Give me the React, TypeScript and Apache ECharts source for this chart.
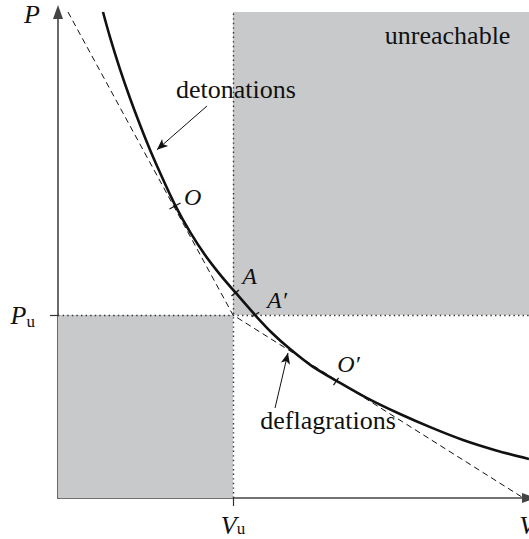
import { useEffect, useRef } from 'react';
import * as echarts from 'echarts';

// Normalised units: V / V_u and P / P_u
const V_MAX = 2.691;
const P_MAX = 2.656;
const V_U = 1;
const P_U = 1;

// Hugoniot curve (thick line)
const HUGONIOT_V = [0.257, 0.297, 0.354, 0.411, 0.469, 0.526, 0.594, 0.669, 0.754, 0.84, 0.926, 1.011, 1.126, 1.223, 1.326, 1.451, 1.594, 1.766, 1.954, 2.137, 2.314, 2.503, 2.691];
const HUGONIOT_P = [2.656, 2.519, 2.344, 2.186, 2.038, 1.902, 1.754, 1.601, 1.454, 1.328, 1.221, 1.126, 1.0, 0.902, 0.814, 0.721, 0.639, 0.546, 0.459, 0.383, 0.317, 0.26, 0.213];

// Rayleigh lines (dashed), through (V_u, P_u)
const RAYLEIGH_V = [0.057, 1, 2.651];
const RAYLEIGH_P = [2.656, 1, 0.005];

// Small marks across the curve at O, A, A', O'
const CURVE_MARK_START_V = [0.637, 0.991, 1.107, 1.574];
const CURVE_MARK_START_P = [1.579, 1.104, 0.991, 0.617];
const CURVE_MARK_END_V = [0.7, 1.034, 1.149, 1.603];
const CURVE_MARK_END_P = [1.612, 1.137, 1.015, 0.656];

// Point labels
const POINT_LABELS = ['O', 'A', 'A′', 'O′'];
const POINT_LABEL_V = [0.769, 1.094, 1.251, 1.66];
const POINT_LABEL_P = [1.645, 1.213, 1.082, 0.732];

// Region / branch labels
const REGION_LABELS = ['detonations', 'unreachable', 'deflagrations'];
const REGION_LABEL_V = [1.017, 2.226, 1.543];
const REGION_LABEL_P = [2.23, 2.525, 0.421];

// Pointer arrows (from label to curve)
const ARROW_FROM_V = [0.851, 1.24];
const ARROW_FROM_P = [2.142, 0.492];
const ARROW_TO_V = [0.565, 1.314];
const ARROW_TO_P = [1.903, 0.793];

// Axis labels
const X_LABEL_VALUES = [V_U, 2.68];
const X_LABEL_TEXTS = ['{v|V}{s|u}', '{v|V}'];
const Y_LABEL_VALUES = [P_U, 2.64];
const Y_LABEL_TEXTS = ['{v|P}{s|u}', '{t|P}'];

const SERIF = 'Liberation Serif';
const INK = '#111';

function pickLabel(values: number[], texts: string[], v: number) {
  let best = 0;
  for (let i = 1; i < values.length; i++) {
    if (Math.abs(values[i] - v) < Math.abs(values[best] - v)) best = i;
  }
  return texts[best];
}

export default function App() {
  const ref = useRef<HTMLDivElement>(null);

  useEffect(() => {
    if (!ref.current) return;
    const chart = echarts.init(ref.current, undefined, { renderer: 'svg' });

    const italic = { fontFamily: SERIF, fontStyle: 'italic', fontSize: 26, color: INK };
    const sub = { fontFamily: SERIF, fontSize: 17, color: INK, lineHeight: 14, verticalAlign: 'bottom' };

    const option: any = {
      animation: false,
      backgroundColor: '#ffffff',
      grid: { left: 58, right: 0, top: 12, bottom: 41, containLabel: false, outerBoundsMode: 'none' },
      xAxis: {
        type: 'value',
        min: 0,
        max: V_MAX,
        splitLine: { show: false },
        axisLine: {
          show: true,
          symbol: ['none', 'triangle'],
          symbolSize: [10, 14],
          lineStyle: { color: '#444', width: 1.6 },
        },
        axisTick: { show: true, customValues: [V_U], length: 8, lineStyle: { color: '#333', width: 1.2 } },
        axisLabel: {
          show: true,
          customValues: X_LABEL_VALUES,
          margin: 15,
          formatter: (v: number) => pickLabel(X_LABEL_VALUES, X_LABEL_TEXTS, v),
          rich: { v: { ...italic, lineHeight: 24 }, s: { ...sub } },
        },
      },
      yAxis: {
        type: 'value',
        min: 0,
        max: P_MAX,
        splitLine: { show: false },
        axisLine: {
          show: true,
          symbol: ['none', 'triangle'],
          symbolSize: [10, 14],
          lineStyle: { color: '#444', width: 1.6 },
        },
        axisTick: { show: true, customValues: [P_U], length: 8, lineStyle: { color: '#333', width: 1.2 } },
        axisLabel: {
          show: true,
          customValues: Y_LABEL_VALUES,
          margin: 18,
          formatter: (v: number) => pickLabel(Y_LABEL_VALUES, Y_LABEL_TEXTS, v),
          rich: {
            v: { ...italic, lineHeight: 30 },
            t: { ...italic, lineHeight: 26 },
            s: { ...sub, lineHeight: 17, padding: [0, 5, 0, 0] },
          },
        },
      },
      series: [
        {
          type: 'line',
          name: 'regions',
          data: [],
          silent: true,
          markArea: {
            silent: true,
            z: 1,
            itemStyle: { color: '#c8c9cb' },
            label: { show: false },
            emphasis: { disabled: true },
            data: [
              [{ coord: [V_U, P_U] }, { coord: [V_MAX, P_MAX] }],
              [{ coord: [0, 0] }, { coord: [V_U, P_U] }],
            ],
          },
          markLine: {
            silent: true,
            z: 2,
            symbol: ['none', 'none'],
            label: { show: false },
            emphasis: { disabled: true },
            lineStyle: { type: [1.4, 3.2], color: '#333', width: 1.4 },
            data: [
              [{ coord: [V_U, 0] }, { coord: [V_U, P_MAX] }],
              [{ coord: [0, P_U] }, { coord: [V_MAX, P_U] }],
            ],
          },
        },
        {
          type: 'line',
          name: 'rayleigh',
          z: 3,
          silent: true,
          showSymbol: false,
          data: RAYLEIGH_V.map((v, i) => [v, RAYLEIGH_P[i]]),
          lineStyle: { color: INK, width: 1, type: [6, 4] },
        },
        {
          type: 'line',
          name: 'hugoniot',
          z: 4,
          silent: true,
          showSymbol: false,
          smooth: 0.3,
          data: HUGONIOT_V.map((v, i) => [v, HUGONIOT_P[i]]),
          lineStyle: { color: INK, width: 2.6 },
        },
        {
          type: 'line',
          name: 'curveMarks',
          data: [],
          silent: true,
          markLine: {
            silent: true,
            z: 5,
            symbol: ['none', 'none'],
            label: { show: false },
            emphasis: { disabled: true },
            lineStyle: { type: 'solid', color: INK, width: 1.2 },
            data: CURVE_MARK_START_V.map((v, i) => [
              { coord: [v, CURVE_MARK_START_P[i]] },
              { coord: [CURVE_MARK_END_V[i], CURVE_MARK_END_P[i]] },
            ]),
          },
        },
        {
          type: 'line',
          name: 'arrows',
          data: [],
          silent: true,
          markLine: {
            silent: true,
            z: 5,
            symbol: ['none', 'arrow'],
            symbolSize: [7, 11],
            label: { show: false },
            emphasis: { disabled: true },
            lineStyle: { type: 'solid', color: INK, width: 1 },
            itemStyle: { color: INK },
            data: ARROW_FROM_V.map((v, i) => [
              { coord: [v, ARROW_FROM_P[i]] },
              { coord: [ARROW_TO_V[i], ARROW_TO_P[i]] },
            ]),
          },
        },
        {
          type: 'line',
          name: 'labels',
          data: [],
          silent: true,
          markPoint: {
            silent: true,
            z: 6,
            symbol: 'circle',
            symbolSize: 1,
            itemStyle: { color: 'rgba(0,0,0,0)' },
            emphasis: { disabled: true },
            label: {
              show: true,
              position: 'inside',
              formatter: '{b}',
              color: INK,
              fontFamily: SERIF,
            },
            data: [
              ...REGION_LABELS.map((t, i) => ({
                name: t,
                coord: [REGION_LABEL_V[i], REGION_LABEL_P[i]],
                label: { fontSize: 26, fontStyle: 'normal' },
              })),
              ...POINT_LABELS.map((t, i) => ({
                name: t,
                coord: [POINT_LABEL_V[i], POINT_LABEL_P[i]],
                label: { fontSize: 24, fontStyle: 'italic' },
              })),
            ],
          },
        },
      ],
    };

    chart.setOption(option);
    return () => chart.dispose();
  }, []);

  return (
    <div
      ref={ref}
      style={{ position: 'fixed', left: 0, top: 0, width: 529, height: 539, background: '#fff' }}
    />
  );
}
